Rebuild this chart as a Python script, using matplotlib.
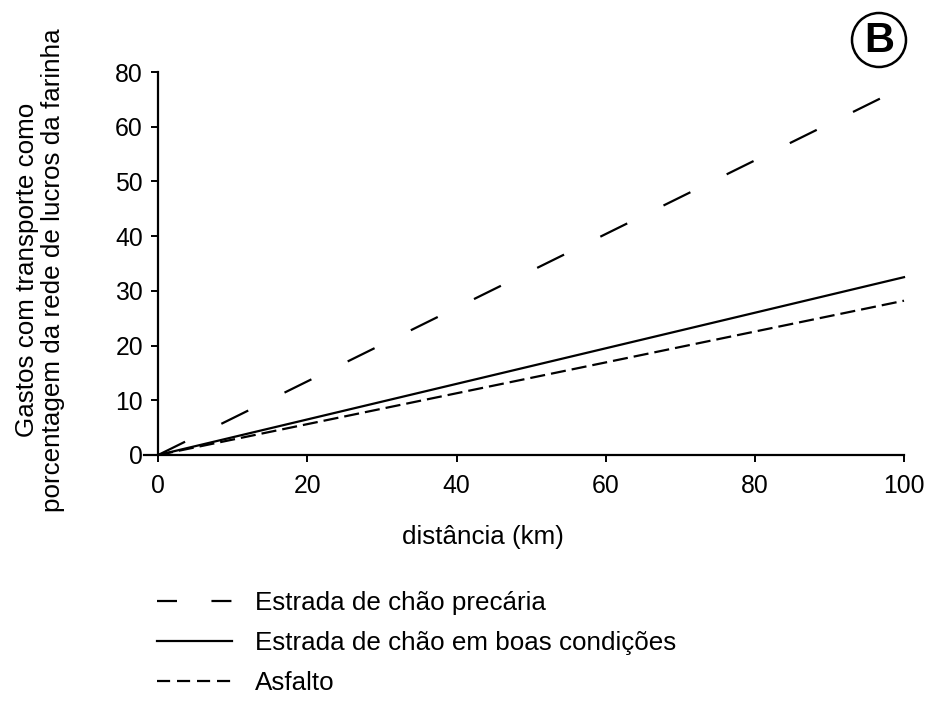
import matplotlib
matplotlib.use("Agg")
import matplotlib.pyplot as plt
from matplotlib.lines import Line2D
from matplotlib.patches import Ellipse

plt.rcParams['font.family'] = ['Liberation Sans', 'DejaVu Sans']

# data
distance = [0, 100]
precaria = [0, 67.3]
boas = [0, 32.5]
asfalto = [0, 28.2]

ytick_pos = [0, 10, 20, 30, 40, 50, 60, 70]
ytick_lab = ["0", "10", "20", "30", "40", "50", "60", "80"]  # top label is printed as 80 in the source
xtick_pos = [0, 20, 40, 60, 80, 100]

labels = ["Estrada de chão precária",
          "Estrada de chão em boas condições",
          "Asfalto"]

LW = 1.6
FS = 18.7
TFS = 17.8

fig = plt.figure(figsize=(9.29, 7.01), dpi=100)
ax = fig.add_axes([144 / 929, 1 - 455 / 701, (904 - 144) / 929, (455 - 72) / 701])

ax.plot(distance, precaria, color='black', lw=LW, linestyle=(0, (13.5, 18.2)),
        solid_capstyle='butt', dash_capstyle='butt', clip_on=False)
ax.plot(distance, boas, color='black', lw=LW, clip_on=False)
ax.plot(distance, asfalto, color='black', lw=LW, linestyle=(0, (6.8, 2.7)),
        dash_capstyle='butt', clip_on=False)

ax.set_xlim(-1.9, 100)
ax.set_ylim(0, 70)
ax.spines['top'].set_visible(False)
ax.spines['right'].set_visible(False)
ax.spines['left'].set_position(('data', 0))
ax.spines['left'].set_linewidth(1.6)
ax.spines['bottom'].set_linewidth(1.6)
ax.set_xticks(xtick_pos)
ax.set_yticks(ytick_pos)
ax.set_yticklabels(ytick_lab)
ax.tick_params(direction='out', length=5, width=1.4, labelsize=TFS)
ax.tick_params(axis='x', pad=9)
ax.tick_params(axis='y', pad=6)

fig.text(483 / 929, 1 - 537 / 701, "distância (km)", ha='center', va='center', fontsize=FS)
fig.text(40 / 929, 1 - 270 / 701,
         "Gastos com transporte como\nporcentagem da rede de lucros da farinha",
         rotation=90, ha='center', va='center', multialignment='center',
         fontsize=FS, linespacing=1.1)

handles = [
    Line2D([], [], color='black', lw=LW, linestyle=(0, (9, 15.5))),
    Line2D([], [], color='black', lw=LW),
    Line2D([], [], color='black', lw=LW, linestyle=(0, (5.9, 3.1))),
]
fig.legend(handles, labels, loc='upper left', bbox_to_anchor=(157 / 929, 1 - 591 / 701),
           frameon=False, fontsize=FS, handlelength=2.9, handletextpad=0.88,
           labelspacing=0.62, borderpad=0, borderaxespad=0)

# circled "B" panel marker
fig.add_artist(Ellipse((879 / 929, 1 - 40 / 701), 54 / 929, 54 / 701,
                       transform=fig.transFigure, fill=False, ec='black', lw=1.8))
fig.text(879 / 929, 1 - 41 / 701, "B", ha='center', va='center',
         fontsize=30, fontweight='bold')

fig.savefig("out.png", dpi=100)
